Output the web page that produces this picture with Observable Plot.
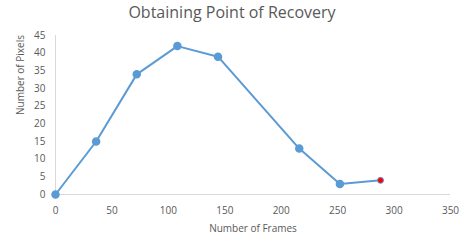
<!DOCTYPE html>
<html>
<head>
<meta charset="utf-8">
<script src="https://cdn.jsdelivr.net/npm/d3@7"></script>
<script src="https://cdn.jsdelivr.net/npm/@observablehq/plot@0.6"></script>
<style>
  body { margin: 0; background: #fff; font-family: "Open Sans", sans-serif; }
  #title { width: 464px; height: 26px; line-height: 24px; text-align: center; font-size: 16px; color: #595959; }
</style>
</head>
<body>
<div id="title">Obtaining Point of Recovery</div>
<div id="chart"></div>
<script>
const frames = [0, 36, 72, 108, 144, 216, 252, 288];
const pixels = [0, 15, 34, 42, 39, 13, 3, 4];
const xTicks = [0, 50, 100, 150, 200, 250, 300, 350];
const yTicks = [0, 5, 10, 15, 20, 25, 30, 35, 40, 45];
const xLabel = "Number of Frames";
const yLabel = "Number of Pixels";

const data = frames.map((f, i) => ({frames: f, pixels: pixels[i]}));
const last = data.slice(-1);
const rest = data.slice(0, -1);

const chart = Plot.plot({
  width: 464,
  height: 218,
  marginTop: 9,
  marginBottom: 50,
  marginLeft: 55,
  marginRight: 14,
  style: {fontFamily: "Open Sans, sans-serif", fontSize: "10px", color: "#595959", background: "#fff"},
  x: {domain: [0, 350], ticks: xTicks, tickSize: 0, tickPadding: 12, label: null},
  y: {domain: [0, 45], ticks: yTicks, tickSize: 0, tickPadding: 10, label: null},
  marks: [
    Plot.ruleX([0], {stroke: "#d9d9d9", strokeWidth: 1}),
    Plot.ruleY([0], {stroke: "#d9d9d9", strokeWidth: 1}),
    Plot.line(data, {x: "frames", y: "pixels", stroke: "#5B9BD5", strokeWidth: 2}),
    Plot.dot(rest, {x: "frames", y: "pixels", r: 3.5, fill: "#5B9BD5", stroke: "#5B9BD5"}),
    Plot.dot(last, {x: "frames", y: "pixels", r: 3, fill: "#FF0000", stroke: "#5B9BD5", strokeWidth: 1}),
    Plot.text([yLabel], {frameAnchor: "left", rotate: -90, dx: -35, fill: "#595959", fontSize: 10}),
    Plot.text([xLabel], {frameAnchor: "bottom", dy: 37, fill: "#595959", fontSize: 10})
  ]
});
document.getElementById("chart").appendChild(chart);
</script>
</body>
</html>
